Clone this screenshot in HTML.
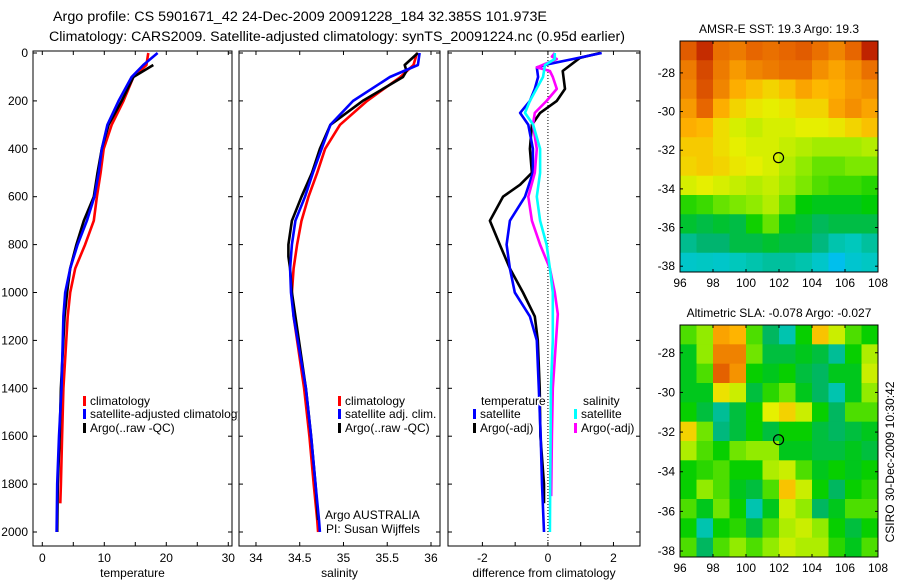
<!DOCTYPE html>
<html><head><meta charset="utf-8">
<style>
html,body{margin:0;padding:0;background:#fff;}
svg{display:block;font-family:"Liberation Sans",sans-serif;}
</style></head>
<body>
<svg id="fig" width="900" height="580" viewBox="0 0 900 580" xmlns="http://www.w3.org/2000/svg">
<rect width="900" height="580" fill="#fff"/>
<text x="53" y="21" font-size="13.5" textLength="494" lengthAdjust="spacingAndGlyphs">Argo profile: CS 5901671_42 24-Dec-2009 20091228_184 32.385S 101.973E</text>
<text x="49" y="41" font-size="13.5" textLength="576" lengthAdjust="spacingAndGlyphs">Climatology: CARS2009. Satellite-adjusted climatology: synTS_20091224.nc (0.95d earlier)</text>
<text transform="translate(894,462) rotate(-90)" text-anchor="middle" font-size="12">CSIRO 30-Dec-2009 10:30:42</text>
<g id="plots"></g>
</svg>
<script>
// ---------- profile data ----------
const depthTop = [0,50,100,200,300,400,500,600,700,800,900,1000,1100,1400,1600,1800,1880];
const tempClim = [17.1,16.8,14.7,13.1,11.2,9.9,9.4,8.8,8.3,6.9,5.3,4.5,4.1,3.4,3.2,3.0,2.9];
const depthFull = [0,50,100,200,300,400,500,600,700,800,900,1000,1100,1400,1600,1800,2000];
const tempSat = [18.6,16.3,14.4,12.3,10.5,9.6,9.1,8.4,7.2,5.7,4.5,3.7,3.4,3.1,2.7,2.4,2.3];
const tempArgoDepth = [50,100,200,300,400,500,600,700,800,900,1000,1100,1400,1600,1800,2000];
const tempArgo = [17.9,14.7,12.8,10.7,9.6,8.9,8.3,6.7,5.5,4.5,4.0,3.6,3.0,2.8,2.5,2.4];

const salClim = [35.84,35.80,35.65,35.27,34.96,34.79,34.70,34.60,34.52,34.47,34.43,34.41,34.43,34.55,34.61,34.66,34.70,34.71];
const salDepth = [0,50,100,200,300,400,500,600,700,800,900,1000,1100,1400,1600,1800,1950,2000];
const salSat = [35.87,35.85,35.53,35.11,34.85,34.75,34.65,34.56,34.45,34.41,34.39,34.40,34.43,34.57,34.63,34.68,34.72,34.73];
const salArgoDepth = [0,50,75,100,200,300,400,500,600,700,800,850,900,1000,1100,1400,1600,1800,1950];
const salArgo = [35.85,35.70,35.72,35.68,35.22,34.85,34.73,34.64,34.52,34.41,34.37,34.37,34.39,34.41,34.45,34.57,34.63,34.68,34.71];

const dTempArgoDepth = [0,20,75,150,200,250,300,400,500,550,600,700,800,900,1000,1100,1200,1400,1600,1800,1880];
const dTempArgo = [1.59,0.98,0.45,0.52,0.27,-0.24,-0.49,-0.55,-0.49,-0.85,-1.37,-1.77,-1.47,-1.16,-0.76,-0.40,-0.31,-0.25,-0.23,-0.12,-0.12];
const dTempSatDepth = [0,25,45,60,100,150,200,250,300,400,500,600,700,800,900,1000,1100,1200,1400,1600,1800,2000];
const dTempSat = [1.64,0.77,0.06,-0.34,-0.30,-0.40,-0.55,-0.85,-0.60,-0.46,-0.46,-0.70,-1.16,-1.26,-1.16,-1.01,-0.55,-0.34,-0.28,-0.22,-0.18,-0.12];
const dSalSatDepth = [0,25,50,100,200,250,300,400,500,600,700,800,900,1000,1100,1200,1400,1600,1800,2000];
const dSalSat = [0.21,0.21,-0.09,-0.15,-0.55,-0.70,-0.45,-0.24,-0.24,-0.34,-0.24,-0.04,0.06,0.15,0.15,0.15,0.09,0.08,0.07,0.06];
const dSalArgoDepth = [0,15,25,60,75,100,150,200,250,300,400,500,600,700,800,900,1000,1090,1400,1600,1850];
const dSalArgo = [0.21,0.12,0.27,-0.34,0.06,0.15,0.27,-0.04,-0.40,-0.46,-0.34,-0.40,-0.60,-0.49,-0.24,0.06,0.21,0.30,0.15,0.12,0.10];

// ---------- map data ----------
const mapLons = [96,97,98,99,100,101,102,103,104,105,106,107];
const sstGrid = [
[20.8,21.3,20.6,20.5,20.7,20.6,20.7,20.8,20.6,20.4,20.7,21.4],
[20.5,21.0,20.5,20.2,20.4,20.5,20.6,20.6,20.3,20.1,20.3,20.6],
[20.4,20.9,20.4,20.0,19.8,19.6,19.8,20.1,19.9,20.0,20.2,20.3],
[20.2,20.7,20.0,19.6,19.4,19.3,19.4,19.6,19.6,20.1,20.3,20.1],
[20.0,19.9,19.5,19.2,19.1,19.2,19.2,19.3,19.3,19.4,19.6,19.8],
[19.7,19.7,19.5,19.3,19.2,19.2,19.1,19.0,18.9,18.9,18.9,19.0],
[19.6,19.7,19.6,19.4,19.3,19.2,19.0,18.8,18.6,18.6,18.7,18.7],
[19.2,19.3,19.2,19.1,19.0,19.1,18.9,18.7,18.5,18.4,18.4,18.3],
[18.3,18.4,18.6,18.7,18.8,19.0,18.6,18.1,18.0,18.0,18.0,18.1],
[17.9,17.8,17.9,17.8,18.2,18.6,18.0,17.9,17.7,17.8,17.8,17.8],
[17.4,17.6,17.6,17.8,17.8,17.9,17.8,17.8,17.5,17.2,17.1,17.3],
[16.9,17.0,16.9,17.1,17.2,17.3,17.3,17.2,16.9,16.3,16.8,17.0]];
const slaGrid = [
[0.0,0.02,0.10,0.09,0.0,-0.05,-0.08,-0.02,0.08,0.04,0.0,-0.02],
[-0.03,0.02,0.12,0.12,0.01,-0.04,-0.04,-0.03,-0.04,-0.07,-0.02,0.03],
[-0.03,0.0,0.14,0.11,-0.02,-0.03,-0.02,-0.04,-0.05,-0.03,-0.03,0.04],
[-0.03,-0.03,0.06,0.04,-0.04,-0.01,0.01,-0.03,-0.05,-0.08,-0.03,0.02],
[-0.02,-0.04,-0.07,-0.04,-0.02,0.05,0.07,0.04,-0.02,-0.05,0.0,0.0],
[0.07,0.01,-0.06,-0.04,-0.02,-0.04,-0.02,-0.02,-0.04,-0.05,-0.04,-0.03],
[0.03,0.0,-0.02,0.01,0.02,0.02,-0.03,-0.03,-0.04,-0.04,-0.03,-0.04],
[-0.02,-0.01,0.0,-0.02,-0.02,0.03,0.04,0.0,-0.03,-0.02,-0.03,-0.02],
[-0.02,0.02,0.0,-0.03,-0.04,0.0,0.08,0.04,-0.02,-0.05,-0.02,-0.01],
[0.0,-0.03,0.01,-0.02,-0.08,-0.03,0.04,0.02,-0.05,-0.03,0.0,0.0],
[-0.02,-0.08,-0.02,-0.01,-0.04,0.0,0.03,0.04,0.02,-0.02,-0.04,-0.02],
[0.0,-0.05,0.0,0.02,0.0,0.02,0.04,0.03,0.03,-0.01,-0.03,0.0]];
const argoLon = 101.973;
const argoLat = -32.385;

const NS = "http://www.w3.org/2000/svg";
const root = document.getElementById('plots');
function mk(tag, attrs, parent){const e=document.createElementNS(NS,tag);for(const k in attrs)e.setAttribute(k,attrs[k]);(parent||root).appendChild(e);return e;}
function txt(s, attrs, parent){const e=mk('text',attrs,parent);e.textContent=s;return e;}

const Y0=53, YS=(532-53)/2000, BOX_T=51, BOX_B=546;
const yD = d => Y0 + d*YS;

function panel(name, left, right, xmin, xmax, xticks, xlabels, xlabel, showY){
  const g = mk('g',{});
  
  
  const xs = v => left + (v-xmin)/(xmax-xmin)*(right-left);
  const r = mk('rect',{x:left,y:BOX_T,width:right-left,height:BOX_B-BOX_T,fill:'none',stroke:'#000','stroke-width':1},g);
  
  
  xticks.forEach((v,i)=>{
    const x=xs(v);
    mk('line',{x1:x,x2:x,y1:BOX_B,y2:BOX_B-4,stroke:'#000'},g);
    mk('line',{x1:x,x2:x,y1:BOX_T,y2:BOX_T+4,stroke:'#000'},g);
    if(xlabels[i]!==''){
      const t=txt(xlabels[i],{x:x,y:562,'text-anchor':'middle','font-size':12},g);
      
      
    }
  });
  for(let d=0; d<=2000; d+=200){
    const y=yD(d);
    mk('line',{x1:left,x2:left+4,y1:y,y2:y,stroke:'#000'},g);
    mk('line',{x1:right,x2:right-4,y1:y,y2:y,stroke:'#000'},g);
    if(showY){
      const t=txt(String(d),{x:28,y:y+4,'text-anchor':'end','font-size':12},g);
      
      
    }
  }
  const xl=txt(xlabel,{x:(left+right)/2,y:577,'text-anchor':'middle','font-size':12},g);
  
  
  return {g, xs};
}
function series(p, depths, vals, color, name){
  const pts = depths.map((d,i)=>p.xs(vals[i]).toFixed(1)+','+yD(d).toFixed(1)).join(' ');
  const l = mk('polyline',{points:pts,fill:'none',stroke:color,'stroke-width':2.6,'stroke-linejoin':'round'},p.g);
  
  
}
function legendRow(g, x, y, color, label, name){
  mk('rect',{x:x,y:y-9,width:3,height:10,fill:color},g);
  const t=txt(label,{x:x+7,y:y,'font-size':12},g);
  
  
}

const p1 = panel('temperature-panel',33,232,-1.5,30.6,[0,5,10,15,20,25,30],['0','','10','','20','','30'],'temperature',true);
series(p1, depthTop, tempClim, '#f00', 'temp-climatology-line');
series(p1, tempArgoDepth, tempArgo, '#000', 'temp-argo-line');
series(p1, depthFull, tempSat, '#00f', 'temp-satellite-line');
const lg1 = mk('g',{},p1.g);


const cp1 = mk('clipPath',{id:'cp1'},lg1); mk('rect',{x:33,y:380,width:205,height:60},cp1);
const lg1i = mk('g',{'clip-path':'url(#cp1)'},lg1);
legendRow(lg1i,83,405,'#f00','climatology','legend-climatology');
legendRow(lg1i,83,418,'#00f','satellite-adjusted climatology','legend-satellite-adjusted');
legendRow(lg1i,83,432,'#000','Argo(..raw -QC)','legend-argo');

const p2 = panel('salinity-panel',239,440,33.806,36.103,[34,34.5,35,35.5,36],['34','34.5','35','35.5','36'],'salinity',false);
series(p2, salDepth, salClim, '#f00', 'sal-climatology-line');
series(p2, salArgoDepth, salArgo, '#000', 'sal-argo-line');
series(p2, salDepth, salSat, '#00f', 'sal-satellite-line');
const lg2 = mk('g',{},p2.g);


legendRow(lg2,338,405,'#f00','climatology','legend-sal-climatology');
legendRow(lg2,338,418,'#00f','satellite adj. clim.','legend-sal-satellite');
legendRow(lg2,338,432,'#000','Argo(..raw -QC)','legend-sal-argo');
const a1=txt('Argo AUSTRALIA',{x:325,y:519,'font-size':12},p2.g);
 
const a2=txt('PI: Susan Wijffels',{x:326,y:533,'font-size':12},p2.g);
 

const p3 = panel('difference-panel',448,640,-3.05,2.81,[-2,-1,0,1,2],['-2','','0','','2'],'difference from climatology',false);
const zx = p3.xs(0);
mk('line',{x1:zx,x2:zx,y1:BOX_T,y2:BOX_B,stroke:'#000','stroke-width':1,'stroke-dasharray':'1,2'},p3.g);
series(p3, dTempArgoDepth, dTempArgo, '#000', 'diff-temp-argo-line');
series(p3, dTempSatDepth, dTempSat, '#00f', 'diff-temp-satellite-line');
series(p3, dSalArgoDepth, dSalArgo, '#f0f', 'diff-sal-argo-line');
series(p3, dSalSatDepth, dSalSat, '#0ff', 'diff-sal-satellite-line');
const lg3 = mk('g',{},p3.g);


const h1=txt('temperature',{x:481,y:405,'font-size':12,stroke:'#fff','stroke-width':3,'paint-order':'stroke'},lg3);
 
const h2=txt('salinity',{x:583,y:405,'font-size':12},lg3);
 
legendRow(lg3,473,418,'#00f','satellite','legend-diff-temp-satellite');
legendRow(lg3,473,432,'#000','Argo(-adj)','legend-diff-temp-argo');
legendRow(lg3,574,418,'#0ff','satellite','legend-diff-sal-satellite');
legendRow(lg3,574,432,'#f0f','Argo(-adj)','legend-diff-sal-argo');

// ---------- maps ----------
const cmapStops = [
 [0.00,[0,60,255]],[0.15,[0,190,240]],[0.28,[0,200,190]],[0.36,[0,180,110]],
 [0.44,[0,205,0]],[0.54,[140,235,0]],[0.62,[230,240,0]],[0.72,[255,180,0]],
 [0.84,[230,100,0]],[1.00,[170,0,0]]];
function cmap(t){
  t=Math.max(0,Math.min(1,t));
  for(let i=1;i<cmapStops.length;i++){
    if(t<=cmapStops[i][0]){
      const a=cmapStops[i-1], b=cmapStops[i], f=(t-a[0])/(b[0]-a[0]);
      const c=a[1].map((v,k)=>Math.round(v+(b[1][k]-v)*f));
      return 'rgb('+c.join(',')+')';
    }
  }
  return 'rgb(170,0,0)';
}
function map(name, grid, vmin, vmax, top, bottom, latTop, latBot, title){
  const g = mk('g',{});
  
  
  const L=680, R=878;
  const xs = lon => L + (lon-96)/12*(R-L);
  const ys = lat => top + (latTop-lat)/(latTop-latBot)*(bottom-top);
  const rowH = (latTop-latBot)/grid.length;
  grid.forEach((row,ri)=>{
    const la1 = latTop - ri*rowH, la2 = la1 - rowH;
    row.forEach((v,ci)=>{
      const x1=xs(mapLons[ci]), x2=xs(mapLons[ci]+1);
      const c=mk('rect',{x:x1,y:ys(la1),width:x2-x1+0.5,height:ys(la2)-ys(la1)+0.5,fill:cmap((v-vmin)/(vmax-vmin))},g);
      
      
    });
  });
  mk('rect',{x:L,y:top,width:R-L,height:bottom-top,fill:'none',stroke:'#000'},g);
  for(let lon=96; lon<=108; lon+=2){
    const x=xs(lon);
    mk('line',{x1:x,x2:x,y1:bottom,y2:bottom-3,stroke:'#000'},g);
    mk('line',{x1:x,x2:x,y1:top,y2:top+3,stroke:'#000'},g);
    const t=txt(String(lon),{x:x,y:bottom+15,'text-anchor':'middle','font-size':12},g);
     
  }
  for(let lat=-28; lat>=-38; lat-=2){
    const y=ys(lat);
    mk('line',{x1:L,x2:L+3,y1:y,y2:y,stroke:'#000'},g);
    mk('line',{x1:R,x2:R-3,y1:y,y2:y,stroke:'#000'},g);
    const t=txt(String(lat),{x:675,y:y+4,'text-anchor':'end','font-size':12},g);
     
  }
  const m=mk('ellipse',{cx:xs(argoLon),cy:ys(argoLat),rx:5,ry:5,fill:'none',stroke:'#000','stroke-width':1.2},g);
   
  const tt=txt(title,{x:779,y:top-8,'text-anchor':'middle','font-size':12},g);
   
}
map('sst-map', sstGrid, 15.27, 21.76, 41, 272, -26.35, -38.3, 'AMSR-E SST: 19.3 Argo: 19.3');
map('sla-map', slaGrid, -0.198, 0.202, 325, 557, -26.6, -38.3, 'Altimetric SLA: -0.078 Argo: -0.027');
</script>
</body></html>
